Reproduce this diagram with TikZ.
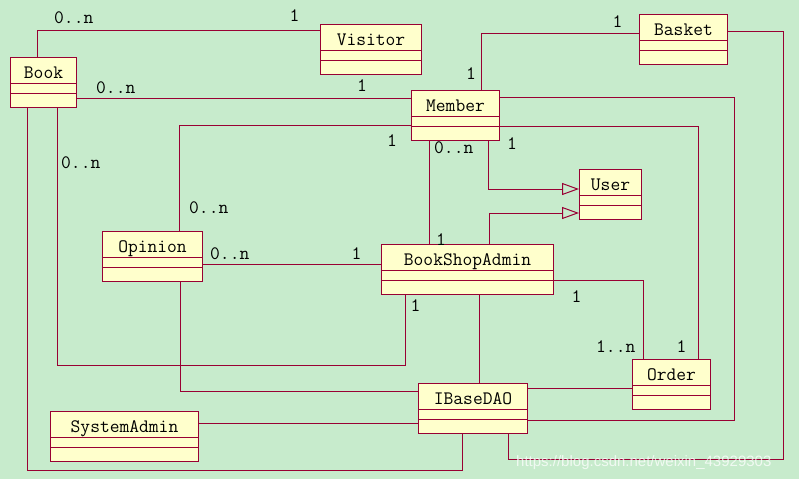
\documentclass[tikz,border=0pt]{standalone}
\usepackage{fontspec}
\newfontfamily\wmfont{Liberation Sans}
\usetikzlibrary{arrows.meta}
\definecolor{bgc}{RGB}{199,235,204}
\definecolor{boxc}{RGB}{255,255,204}
\definecolor{lc}{RGB}{153,0,51}
\newcommand\umlclass[5]{%
  \node[cls,minimum width=#4pt,anchor=north west] (#1) at (#2,#3) {};
  \node[ttl] (#1-t) at ([yshift=-21.5pt]#1.north) {#5};
  \draw[conn] ([yshift=-26pt]#1.north west) -- ([yshift=-26pt]#1.north east);
  \draw[conn] ([yshift=-36pt]#1.north west) -- ([yshift=-36pt]#1.north east);}
\begin{document}
\begin{tikzpicture}[x=1pt,y=-1pt,
  cls/.style={draw=lc, fill=boxc, line width=1pt, inner sep=0pt, minimum height=50pt},
  conn/.style={draw=lc, line width=1pt},
  gen/.style={conn, -{Triangle[open,length=17pt,width=12pt]}},
  ttl/.style={inner sep=0pt, anchor=base, font=\ttfamily\fontsize{19}{19}\selectfont},
  lbl/.style={inner sep=0pt, anchor=base, font=\ttfamily\fontsize{19}{19}\selectfont},
  lblw/.style={lbl, anchor=base west}]
\fill[bgc] (0,0) rectangle (799,479);
\useasboundingbox (0,0) rectangle (799,479);
% classes
\umlclass{book}{10}{57}{66}{Book}
\umlclass{visitor}{320}{24}{101}{Visitor}
\umlclass{basket}{639}{14}{88}{Basket}
\umlclass{member}{411}{90}{88}{Member}
\umlclass{user}{579}{169}{62}{User}
\umlclass{opinion}{102}{231}{100}{Opinion}
\umlclass{bsa}{381}{244}{172}{BookShopAdmin}
\umlclass{ibase}{418}{383}{109}{IBaseDAO}
\umlclass{order}{632}{359}{78}{Order}
\umlclass{sysadmin}{50}{411}{148}{SystemAdmin}
% connectors
\draw[conn] (book.north -| 37,0) |- (visitor.west |- 0,30);
\draw[conn] (book.east |- 0,98) -- (member.west |- 0,98);
\draw[conn] (member.west |- 0,125) -| (opinion.north -| 179,0);
\draw[conn] (member.north -| 481,0) |- (basket.west |- 0,33);
\draw[conn] (member.east |- 0,97) -| (734,420) -- (ibase.east |- 0,420);
\draw[conn] (member.east |- 0,126) -| (order.north -| 698,0);
\draw[conn] (basket.east |- 0,31) -| (783,459) -| (ibase.south -| 508,0);
\draw[conn] (member.south -| 429,0) -- (bsa.north -| 429,0);
\draw[gen] (member.south -| 488,0) |- (user.west |- 0,189);
\draw[gen] (bsa.north -| 489,0) |- (user.west |- 0,213);
\draw[conn] (opinion.east |- 0,264) -- (bsa.west |- 0,264);
\draw[conn] (opinion.south -| 180,0) |- (ibase.west |- 0,391);
\draw[conn] (book.south -| 57,0) |- (405,365) -- (bsa.south -| 405,0);
\draw[conn] (book.south -| 27,0) |- (462,470) -- (ibase.south -| 462,0);
\draw[conn] (sysadmin.east |- 0,423) -- (ibase.west |- 0,423);
\draw[conn] (bsa.south -| 479,0) -- (ibase.north -| 479,0);
\draw[conn] (ibase.east |- 0,388) -- (order.west |- 0,388);
\draw[conn] (bsa.east |- 0,280) -| (order.north -| 643,0);
% multiplicities
\node[lblw] (m1) at (54,23) {0..n};
\node[lbl] (m2) at (294.5,21) {1};
\node[lblw] (m3) at (96,93) {0..n};
\node[lbl] (m4) at (362,91) {1};
\node[lbl] (m5) at (392,146) {1};
\node[lbl] (m6) at (617.5,27) {1};
\node[lbl] (m7) at (471,79) {1};
\node[lblw] (m8) at (434,153) {0..n};
\node[lbl] (m9) at (512,149) {1};
\node[lblw] (m10) at (61,168) {0..n};
\node[lblw] (m11) at (189,213) {0..n};
\node[lblw] (m12) at (210,259) {0..n};
\node[lbl] (m13) at (356.5,259) {1};
\node[lbl] (m14) at (441,245) {1};
\node[lbl] (m15) at (415.5,311) {1};
\node[lbl] (m16) at (576.5,302) {1};
\node[lblw] (m17) at (596,352) {1..n};
\node[lbl] (m18) at (681.5,352) {1};
% watermark
\node[anchor=base west, inner sep=0pt, font=\wmfont\fontsize{15}{15}\selectfont, text=white, opacity=.75] (wm) at (516,466) {https://blog.csdn.net/weixin\_43929303};
\end{tikzpicture}
\end{document}
